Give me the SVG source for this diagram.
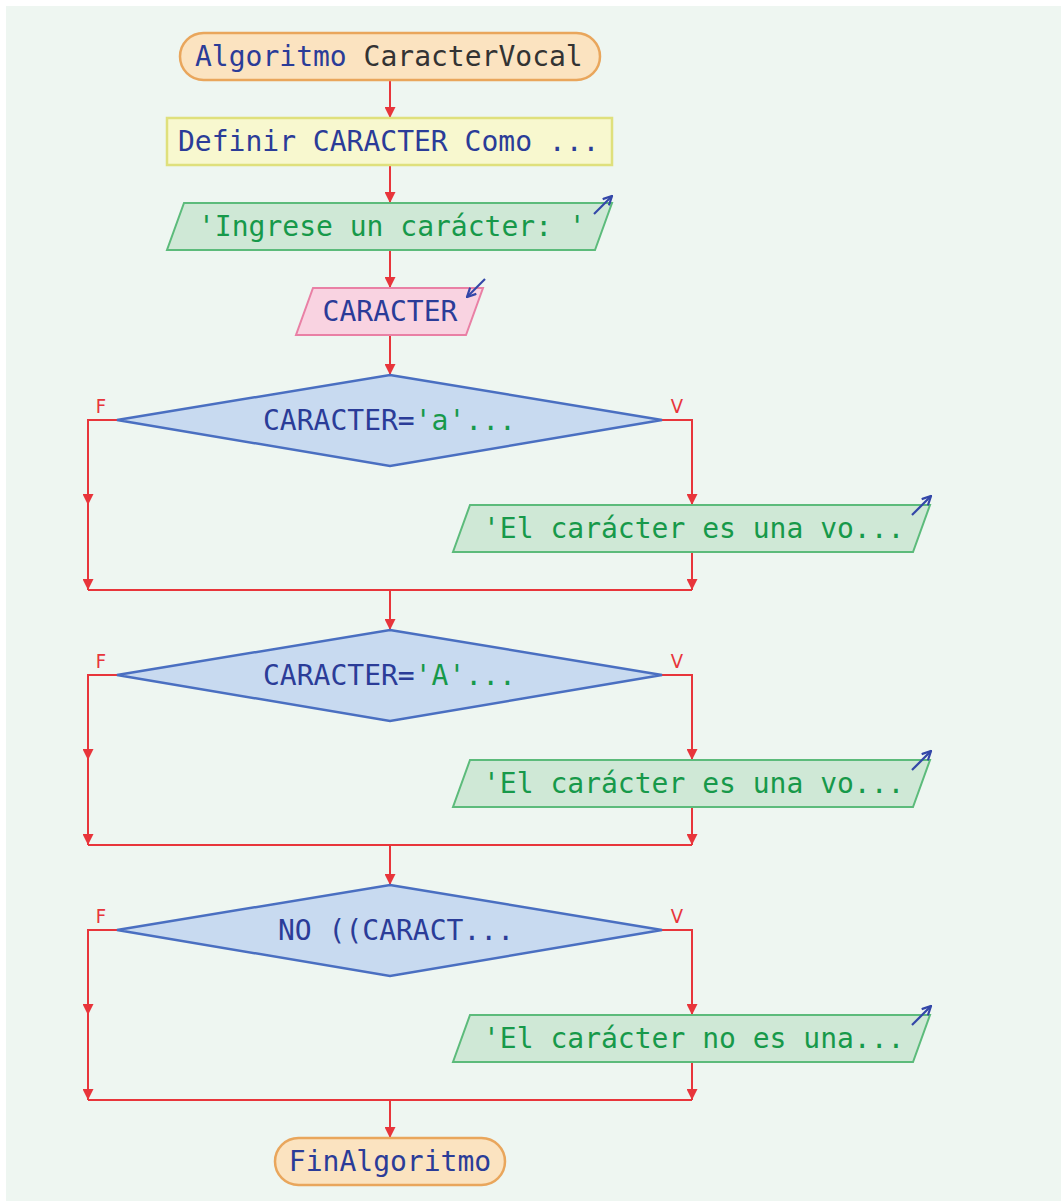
<svg xmlns="http://www.w3.org/2000/svg" width="1061" height="1201" viewBox="0 0 1061 1201">
  <style>
    text { font-family: "DejaVu Sans Mono", "Liberation Mono", monospace; font-size: 28px; }
    .kw { fill: #2b3c98; }
    .id { fill: #333333; }
    .str { fill: #17994a; }
    .flow { fill: none; stroke: #e8353b; stroke-width: 2; }
    .lbl { fill: #e8353b; font-family: "DejaVu Sans Condensed", "DejaVu Sans", "Liberation Sans", sans-serif; font-size: 20px; }
    .term { fill: #fbe3c0; stroke: #e9a65c; stroke-width: 2.5; }
    .def { fill: #f8f8cf; stroke: #dfe07c; stroke-width: 2.5; }
    .out { fill: #cfe8d6; stroke: #5cbb7b; stroke-width: 2; }
    .inp { fill: #f9d3e1; stroke: #e980a5; stroke-width: 2; }
    .dec { fill: #c8daf0; stroke: #4a6fc1; stroke-width: 2.5; }
    .io { fill: none; stroke: #3347a8; stroke-width: 2.2; }
  </style>
  <defs>
    <marker id="arrow" viewBox="0 0 10 10" refX="10" refY="5" markerUnits="userSpaceOnUse" markerWidth="11" markerHeight="11" orient="auto">
      <path d="M0,0 L10,5 L0,10 z" fill="#e8353b"/>
    </marker>
    <marker id="ioHead" viewBox="0 0 10 10" refX="9" refY="5" markerUnits="userSpaceOnUse" markerWidth="11" markerHeight="11" orient="auto">
      <path d="M1,1 L9,5 L1,9" fill="none" stroke="#3347a8" stroke-width="2"/>
    </marker>
  </defs>

  <rect x="0" y="0" width="1061" height="1201" fill="#ffffff"/>
  <rect x="6" y="6" width="1055" height="1195" fill="#eef6f1"/>

  <!-- connectors -->
  <g id="connectors">
    <path class="flow" d="M390,80 V118" marker-end="url(#arrow)"/>
    <path class="flow" d="M390,165 V203" marker-end="url(#arrow)"/>
    <path class="flow" d="M390,250 V288" marker-end="url(#arrow)"/>
    <path class="flow" d="M390,335 V375" marker-end="url(#arrow)"/>

    <!-- first decision -->
    <path class="flow" d="M117,420 H88 V505" marker-end="url(#arrow)"/>
    <path class="flow" d="M88,505 V590" marker-end="url(#arrow)"/>
    <path class="flow" d="M662,420 H692 V505" marker-end="url(#arrow)"/>
    <path class="flow" d="M692,552 V590" marker-end="url(#arrow)"/>
    <path class="flow" d="M88,590 H692"/>
    <path class="flow" d="M390,590 V630" marker-end="url(#arrow)"/>

    <!-- second decision -->
    <path class="flow" d="M117,675 H88 V760" marker-end="url(#arrow)"/>
    <path class="flow" d="M88,760 V845" marker-end="url(#arrow)"/>
    <path class="flow" d="M662,675 H692 V760" marker-end="url(#arrow)"/>
    <path class="flow" d="M692,807 V845" marker-end="url(#arrow)"/>
    <path class="flow" d="M88,845 H692"/>
    <path class="flow" d="M390,845 V885" marker-end="url(#arrow)"/>

    <!-- third decision -->
    <path class="flow" d="M117,930 H88 V1015" marker-end="url(#arrow)"/>
    <path class="flow" d="M88,1015 V1100" marker-end="url(#arrow)"/>
    <path class="flow" d="M662,930 H692 V1015" marker-end="url(#arrow)"/>
    <path class="flow" d="M692,1062 V1100" marker-end="url(#arrow)"/>
    <path class="flow" d="M88,1100 H692"/>
    <path class="flow" d="M390,1100 V1138" marker-end="url(#arrow)"/>

    <text class="lbl" x="101" y="413" text-anchor="middle">F</text>
    <text class="lbl" x="677" y="413" text-anchor="middle">V</text>
    <text class="lbl" x="101" y="668" text-anchor="middle">F</text>
    <text class="lbl" x="677" y="668" text-anchor="middle">V</text>
    <text class="lbl" x="101" y="923" text-anchor="middle">F</text>
    <text class="lbl" x="677" y="923" text-anchor="middle">V</text>
  </g>

  <!-- start -->
  <g id="start">
    <rect class="term" x="180" y="33" width="420" height="47" rx="23.5"/>
    <text x="195" y="66"><tspan class="kw">Algoritmo</tspan><tspan class="id"> CaracterVocal</tspan></text>
  </g>

  <!-- variable definition -->
  <g id="define">
    <rect class="def" x="167" y="118" width="445" height="47"/>
    <text class="kw" x="178" y="151">Definir CARACTER Como ...</text>
  </g>

  <!-- prompt -->
  <g id="prompt">
    <polygon class="out" points="184,203 612,203 595,250 167,250"/>
    <text class="str" x="198" y="236">'Ingrese un carácter: '</text>
    <path class="io" d="M594,214 L612,196" marker-end="url(#ioHead)"/>
  </g>

  <!-- read -->
  <g id="read">
    <polygon class="inp" points="313,288 483,288 466,335 296,335"/>
    <text class="kw" x="390" y="321" text-anchor="middle">CARACTER</text>
    <path class="io" d="M485,279 L467,297" marker-end="url(#ioHead)"/>
  </g>

  <!-- decision: lowercase vowel -->
  <g id="decision1">
    <polygon class="dec" points="390,375 662,420 390,466 117,420"/>
    <text x="263" y="430"><tspan class="kw">CARACTER=</tspan><tspan class="str">'a'...</tspan></text>
  </g>
  <g id="output1">
    <polygon class="out" points="470,505 930,505 913,552 453,552"/>
    <text class="str" x="483" y="538">'El carácter es una vo...</text>
    <path class="io" d="M912,515 L931,496" marker-end="url(#ioHead)"/>
  </g>

  <!-- decision: uppercase vowel -->
  <g id="decision2">
    <polygon class="dec" points="390,630 662,675 390,721 117,675"/>
    <text x="263" y="685"><tspan class="kw">CARACTER=</tspan><tspan class="str">'A'...</tspan></text>
  </g>
  <g id="output2">
    <polygon class="out" points="470,760 930,760 913,807 453,807"/>
    <text class="str" x="483" y="793">'El carácter es una vo...</text>
    <path class="io" d="M912,770 L931,751" marker-end="url(#ioHead)"/>
  </g>

  <!-- decision: not a vowel -->
  <g id="decision3">
    <polygon class="dec" points="390,885 662,930 390,976 117,930"/>
    <text class="kw" x="278" y="940">NO ((CARACT...</text>
  </g>
  <g id="output3">
    <polygon class="out" points="470,1015 930,1015 913,1062 453,1062"/>
    <text class="str" x="483" y="1048">'El carácter no es una...</text>
    <path class="io" d="M912,1025 L931,1006" marker-end="url(#ioHead)"/>
  </g>

  <!-- end -->
  <g id="end">
    <rect class="term" x="275" y="1138" width="230" height="47" rx="23.5"/>
    <text class="kw" x="390" y="1171" text-anchor="middle">FinAlgoritmo</text>
  </g>
</svg>
